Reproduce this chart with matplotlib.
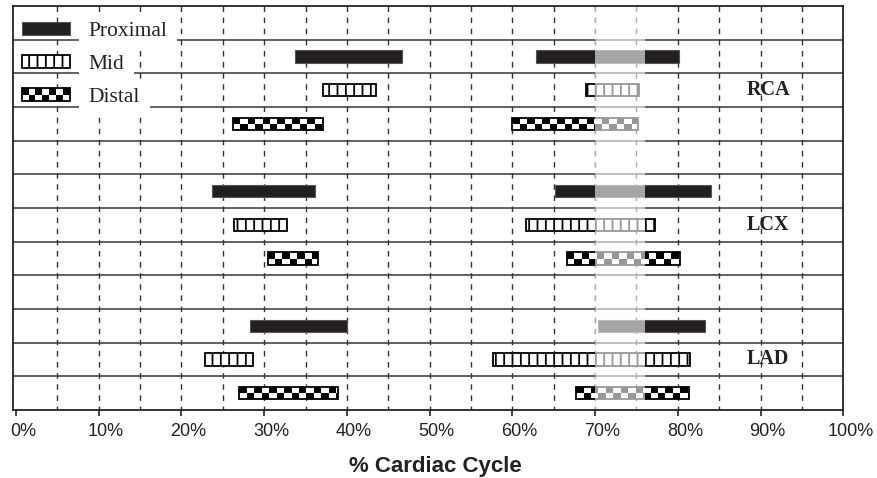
import matplotlib
matplotlib.use('Agg')
import matplotlib.pyplot as plt
import matplotlib.transforms as mtransforms
from matplotlib.patches import Rectangle
from matplotlib.legend_handler import HandlerBase
import numpy as np

# motion windows (% of cardiac cycle), two per segment
arteries = ['RCA', 'LCX', 'LAD']
segments = ['Proximal', 'Mid', 'Distal']
rca_starts = [[33.7, 62.9], [37.1, 68.9], [26.2, 60.0]]
rca_ends = [[46.7, 80.1], [43.5, 75.3], [37.1, 75.2]]
lcx_starts = [[23.7, 65.1], [26.3, 61.6], [30.4, 66.6]]
lcx_ends = [[36.1, 84.0], [32.8, 77.2], [36.5, 80.3]]
lad_starts = [[28.3, 70.4], [22.9, 57.6], [27.0, 67.7]]
lad_ends = [[40.0, 83.3], [28.6, 81.5], [38.9, 81.3]]
starts = [rca_starts, lcx_starts, lad_starts]
ends = [rca_ends, lcx_ends, lad_ends]

# shaded window
shade_start = 70
shade_end = 76

xticks = np.arange(0, 101, 10)
xtick_labels = ['%d%%' % t for t in xticks]

dark = '#231f20'
bar_h = 0.36
cell = 0.9  # checker cell width in %

plt.rcParams['hatch.linewidth'] = 1.3

fig = plt.figure(figsize=(8.78, 4.78), dpi=100)
ax = fig.add_axes([13.3 / 878, 1 - 410 / 478, 830 / 878, 404 / 478])
n_rows = 12
ax.set_xlim(-0.33, 100)
ax.set_ylim(n_rows - 0.5, -0.5)


def checker_bar(ax, y, x0, x1, h):
    ax.barh(y, x1 - x0, left=x0, height=h, color='white', edgecolor='none', zorder=2)
    xs = np.arange(x0, x1, cell)
    ws = np.minimum(xs + cell, x1) - xs
    idx = np.arange(len(xs))
    top = idx % 2 == 0
    ax.barh(np.full(top.sum(), y - h / 4), ws[top], left=xs[top], height=h / 2,
            color='black', edgecolor='none', zorder=2)
    ax.barh(np.full((~top).sum(), y + h / 4), ws[~top], left=xs[~top], height=h / 2,
            color='black', edgecolor='none', zorder=2)
    ax.barh(y, x1 - x0, left=x0, height=h, fill=False, edgecolor='black', lw=1.3, zorder=2.1)


for a, art in enumerate(arteries):
    for s, seg in enumerate(segments):
        row = 1 + 4 * a + s
        for x0, x1 in zip(starts[a][s], ends[a][s]):
            if seg == 'Proximal':
                ax.barh(row, x1 - x0, left=x0, height=bar_h, color=dark,
                        edgecolor='#555555', lw=0.8, zorder=2)
            elif seg == 'Mid':
                ax.barh(row, x1 - x0, left=x0, height=bar_h, color='white',
                        edgecolor='black', hatch='||', lw=1.3, zorder=2)
            else:
                checker_bar(ax, row, x0, x1, bar_h)
    ax.text(90.9, 1 + 4 * a + 1, art, ha='center', va='center', fontsize=14.5,
            fontweight='bold', family='Liberation Serif', color='#222222', zorder=4)

# row separators and dashed verticals
for yb in np.arange(0.5, n_rows - 0.5, 1):
    ax.axhline(yb, color='#555555', lw=1.3, zorder=1)
ax.vlines(np.arange(5, 100, 5), -0.5, n_rows - 0.5, colors='#333333', lw=1.0,
          linestyles=(0, (4, 4)), zorder=1)

# translucent highlight
ax.axvspan(shade_start, shade_end, color='white', alpha=0.6, lw=0, zorder=2.4)

for sp in ax.spines.values():
    sp.set_color('#222222')
    sp.set_linewidth(1.3)
    sp.set_zorder(2.5)

ax.set_yticks([])
ax.set_xticks(xticks)
ax.set_xticklabels(xtick_labels, fontsize=13, family='Liberation Sans', color='#222222')
ax.tick_params(axis='x', direction='out', length=4, width=1.2, color='#222222', pad=5)
offset = mtransforms.ScaledTranslation(7 / 100, 0, fig.dpi_scale_trans)
for lab in ax.get_xticklabels():
    lab.set_transform(lab.get_transform() + offset)

ax.set_xlabel('% Cardiac Cycle', fontsize=16, fontweight='bold', family='Liberation Sans',
              color='#222222', labelpad=12)
ax.xaxis.label.set_x(0.509)


class CheckerHandler(HandlerBase):
    def create_artists(self, legend, orig_handle, xdescent, ydescent, width, height,
                       fontsize, trans):
        arts = [Rectangle((-xdescent, -ydescent), width, height, fc='white', ec='none',
                          transform=trans)]
        n = 7
        cw = width / n
        for i in range(n):
            yy = -ydescent + (height / 2 if i % 2 == 0 else 0)
            arts.append(Rectangle((-xdescent + i * cw, yy), cw, height / 2, fc='black',
                                  ec='none', transform=trans))
        arts.append(Rectangle((-xdescent, -ydescent), width, height, fill=False, ec='black',
                              lw=1.3, transform=trans))
        return arts


h_prox = Rectangle((0, 0), 1, 1, fc=dark, ec='#555555', lw=0.8)
h_mid = Rectangle((0, 0), 1, 1, fc='white', ec='black', hatch='||', lw=1.3)
h_dist = Rectangle((0, 0), 1, 1)
leg = ax.legend([h_prox, h_mid, h_dist], segments, loc='upper left',
                bbox_to_anchor=(0.0101, 0.96), borderpad=0, borderaxespad=0,
                frameon=False, handlelength=2.23, handleheight=0.56, handletextpad=0.88,
                labelspacing=0.64, prop={'family': 'Liberation Serif', 'size': 15.5},
                handler_map={h_dist: CheckerHandler()})
leg.set_zorder(3)
for t in leg.get_texts():
    t.set_color('#222222')
    t.set_bbox(dict(facecolor='white', edgecolor='none', boxstyle='square,pad=0.45'))

fig.savefig('out.png', dpi=100)
